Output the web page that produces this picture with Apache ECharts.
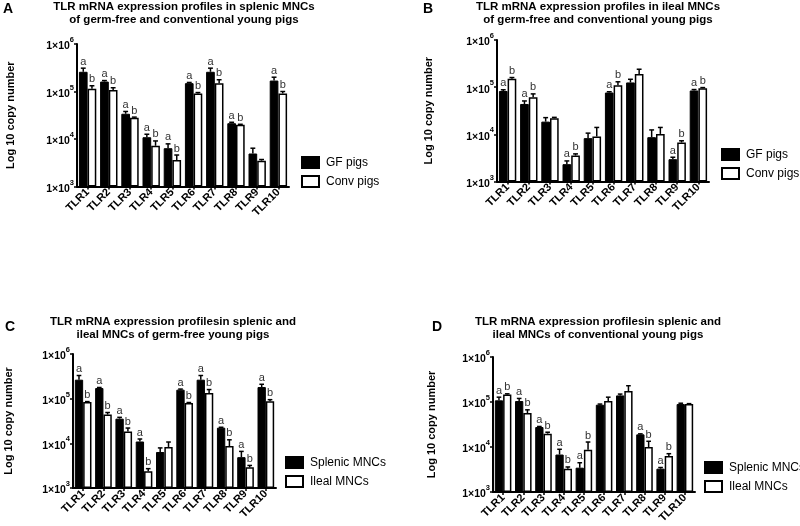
<!DOCTYPE html>
<html>
<head>
<meta charset="utf-8">
<script src="https://cdn.jsdelivr.net/npm/echarts@6/dist/echarts.min.js"></script>
<style>html,body{margin:0;padding:0;background:#fff;}#c{width:800px;height:526px;}</style>
</head>
<body>
<div id="c"></div>
<script>
const categories = ['TLR1','TLR2','TLR3','TLR4','TLR5','TLR6','TLR7','TLR8','TLR9','TLR10'];
const yTicks = [1000, 10000, 100000, 1000000];

// Panel A: splenic MNCs, GF vs Conv
const aGF      = [260000,162000,34000,10900,6400,150000,260000,21500,4950,170000];
const aGFsem   = [50000,8000,4000,1700,1500,5000,50000,1000,1450,30000];
const aConv    = [114000,108000,27900,7200,3600,91000,150000,19900,3500,91000];
const aConvsem = [18000,12000,1000,1900,1000,4000,27000,500,200,9000];
const aLetA    = ['a','a','a','a','a','a','a','a','','a'];
const aLetB    = ['b','b','b','b','b','b','b','b','','b'];

// Panel B: ileal MNCs, GF vs Conv
const bGF      = [83000,44000,18600,2330,8300,77000,126000,8700,2970,85000];
const bGFsem   = [5000,7000,4000,400,2300,3000,21000,3700,300,4000];
const bConv    = [150000,61000,21900,3550,9000,110000,190000,10200,6700,95000];
const bConvsem = [10000,11000,1000,300,5000,20000,50000,3800,600,3000];
const bLetA    = ['a','a','','a','','a','','','a','a'];
const bLetB    = ['b','b','','b','','b','','','b','b'];

// Panel C: germ-free, splenic vs ileal
const cSpl     = [266000,173000,35700,11000,6400,159000,266000,22400,4900,182000];
const cSplsem  = [64000,5000,2500,1500,1500,5000,64000,500,1700,28000];
const cIle     = [84000,44000,18500,2360,8300,80000,134000,8700,2900,87000];
const cIlesem  = [2000,5000,3500,350,2400,2000,26000,3300,300,8000];
const cLetA    = ['a','a','a','a','','a','a','a','a','a'];
const cLetB    = ['b','b','b','b','','b','b','b','b','b'];

// Panel D: conventional, splenic vs ileal
const dSpl     = [109000,105000,27800,6800,3470,87000,140000,19100,3300,90000];
const dSplsem  = [19000,15000,800,2100,1000,3000,10000,500,200,4000];
const dIle     = [146000,57000,19800,3300,8700,105000,175000,10000,6300,90000];
const dIlesem  = [6000,10000,1500,300,4200,23000,55000,3400,800,2000];
const dLetA    = ['a','a','a','a','a','','','a','a',''];
const dLetB    = ['b','b','b','b','b','','','b','b',''];

const titlesText = [
  'TLR mRNA expression profiles in splenic MNCs\nof germ-free and conventional young pigs',
  'TLR mRNA expression profiles in ileal MNCs\nof germ-free and conventional young pigs',
  'TLR mRNA expression profilesin splenic and\nileal MNCs of germ-free young pigs',
  'TLR mRNA expression profilesin splenic and\nileal MNCs of conventional young pigs'
];
const panelLetters = ['A','B','C','D'];
const legendNames = [['GF pigs','Conv pigs'],['GF pigs','Conv pigs'],['Splenic MNCs','Ileal MNCs'],['Splenic MNCs','Ileal MNCs']];
const yName = 'Log 10 copy number';

const FONT = '"Liberation Sans", Arial, Helvetica, sans-serif';
const GAP = 0.18;

const panels = [
  {d1:aGF, e1:aGFsem, d2:aConv, e2:aConvsem, l1:aLetA, l2:aLetB},
  {d1:bGF, e1:bGFsem, d2:bConv, e2:bConvsem, l1:bLetA, l2:bLetB},
  {d1:cSpl, e1:cSplsem, d2:cIle, e2:cIlesem, l1:cLetA, l2:cLetB},
  {d1:dSpl, e1:dSplsem, d2:dIle, e2:dIlesem, l1:dLetA, l2:dLetB}
];

const layout = [
  {grid:{left:77, top:44, width:212, height:142.5}, nameGap:61, title:{x:184, y:1}, letter:{x:3, y:2}, legend:{x:301, y:156}},
  {grid:{left:497, top:40, width:212, height:141.5}, nameGap:63, title:{x:598, y:1}, letter:{x:423, y:2}, legend:{x:721, y:148}},
  {grid:{left:73, top:354, width:203, height:134}, nameGap:59, title:{x:173, y:316}, letter:{x:5, y:320}, legend:{x:285, y:456}},
  {grid:{left:493, top:357, width:202, height:135}, nameGap:56, title:{x:598, y:316}, letter:{x:432, y:320}, legend:{x:704, y:461}}
];

function errSeries(pi, vals, sems, lets, side, name) {
  return {
    type: 'custom', xAxisIndex: pi, yAxisIndex: pi, clip: false, z: 5, silent: true,
    name: name,
    data: vals.map((v, i) => [i, v, sems[i]]),
    renderItem: function (params, api) {
      const i = api.value(0), v = api.value(1), e = api.value(2);
      const band = api.size([1, v])[0];
      const bw = band * (1 - GAP) / 2;
      const c = api.coord([i, v]);
      const t = api.coord([i, v + e]);
      const x = c[0] + side * bw / 2;
      const cap = bw * 0.28;
      const children = [
        {type:'line', shape:{x1:x, y1:c[1], x2:x, y2:t[1]}, style:{stroke:'#000', lineWidth:1.5}},
        {type:'line', shape:{x1:x - cap, y1:t[1], x2:x + cap, y2:t[1]}, style:{stroke:'#000', lineWidth:1.5}}
      ];
      const L = lets[params.dataIndex];
      if (L) {
        children.push({type:'text', x:x, y:t[1] - 1,
          style:{text:L, fill:'#333', font:'11px ' + FONT, textAlign:'center', textVerticalAlign:'bottom'}});
      }
      return {type:'group', children: children};
    }
  };
}

const option = {
  animation: false,
  textStyle: {fontFamily: FONT},
  title: [],
  legend: [],
  grid: [],
  xAxis: [],
  yAxis: [],
  series: []
};

panels.forEach((p, pi) => {
  const L = layout[pi];
  option.grid.push(Object.assign({containLabel:false}, L.grid));
  option.title.push({text: titlesText[pi], left: L.title.x, top: L.title.y, textAlign: 'center', padding: 0,
    textStyle: {fontSize: 11.5, fontWeight: 'bold', color: '#000', lineHeight: 12.5, fontFamily: FONT}});
  option.title.push({text: panelLetters[pi], left: L.letter.x, top: L.letter.y, padding: 0,
    textStyle: {fontSize: 14, fontWeight: 'bold', color: '#000', fontFamily: FONT}});
  option.legend.push({
    data: legendNames[pi], orient: 'vertical', left: L.legend.x, top: L.legend.y, padding: 0,
    itemWidth: 17, itemHeight: 11, itemGap: 6, icon: 'rect', selectedMode: false,
    textStyle: {fontSize: 12, color: '#000', fontFamily: FONT, padding: [0,0,0,2]}
  });
  option.xAxis.push({
    type: 'category', gridIndex: pi, data: categories,
    axisLine: {lineStyle: {color: '#000', width: 2}},
    axisTick: {show: true, alignWithLabel: true, length: 3, lineStyle: {color: '#000', width: 1.5}},
    axisLabel: {rotate: 45, margin: 4, color: '#000', fontSize: 11, fontWeight: 'bold', fontFamily: FONT, interval: 0}
  });
  option.yAxis.push({
    type: 'log', logBase: 10, gridIndex: pi, min: yTicks[0], max: yTicks[yTicks.length - 1], startValue: yTicks[0],
    name: yName, nameLocation: 'middle', nameGap: L.nameGap, nameRotate: 90,
    nameTextStyle: {fontSize: 11, fontWeight: 'bold', color: '#000', fontFamily: FONT},
    splitLine: {show: false},
    axisLine: {show: true, lineStyle: {color: '#000', width: 2}},
    axisTick: {show: true, length: 3, lineStyle: {color: '#000', width: 1.5}},
    axisLabel: {
      margin: 3, color: '#000',
      formatter: function (v) { const ex = Math.round(Math.log10(v)); return '{b|1×10}{s|' + ex + '}'; },
      rich: {
        b: {fontSize: 10.5, fontWeight: 'bold', color: '#000', fontFamily: FONT, lineHeight: 16, verticalAlign: 'bottom'},
        s: {fontSize: 7.5, fontWeight: 'bold', color: '#000', fontFamily: FONT, lineHeight: 9, verticalAlign: 'top'}
      }
    }
  });
  const n1 = legendNames[pi][0], n2 = legendNames[pi][1];
  option.series.push({
    type: 'bar', name: n1, xAxisIndex: pi, yAxisIndex: pi, data: p.d1, clip: true,
    barGap: '0%', barCategoryGap: (GAP * 100) + '%',
    itemStyle: {color: '#000', borderColor: '#000', borderWidth: 1}
  });
  option.series.push({
    type: 'bar', name: n2, xAxisIndex: pi, yAxisIndex: pi, data: p.d2, clip: true,
    barGap: '0%', barCategoryGap: (GAP * 100) + '%',
    itemStyle: {color: '#fff', borderColor: '#000', borderWidth: 1.5}
  });
  option.series.push(errSeries(pi, p.d1, p.e1, p.l1, -1, n1 + ' err'));
  option.series.push(errSeries(pi, p.d2, p.e2, p.l2, 1, n2 + ' err'));
});

const chart = echarts.init(document.getElementById('c'), null, {renderer: 'canvas'});
chart.setOption(option);
</script>
</body>
</html>
